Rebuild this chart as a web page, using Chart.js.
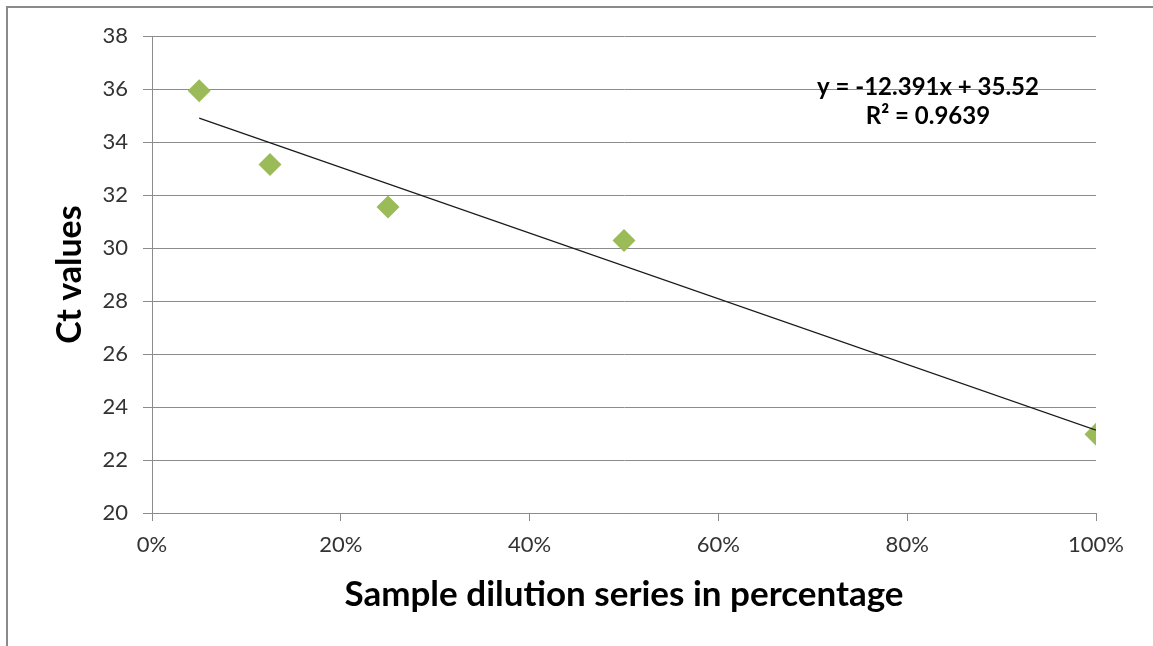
<!DOCTYPE html>
<html>
<head>
<meta charset="utf-8">
<script src="https://cdn.jsdelivr.net/npm/chart.js@4/dist/chart.umd.min.js"></script>
<style>
  html, body { margin: 0; padding: 0; background: #ffffff; }
  #wrap { width: 1153px; height: 646px; position: relative; }
</style>
</head>
<body>
<div id="wrap"><canvas id="chart" width="1153" height="646"></canvas></div>
<script>
// Dilution fraction of the sample (1 = 100 %)
const dilution = [0.05, 0.125, 0.25, 0.5, 1.0];
// Measured Ct values for each dilution
const ctValues = [35.93, 33.15, 31.55, 30.28, 22.97];
// Linear trendline fitted to the series
const trendSlope = -12.391;
const trendIntercept = 35.52;
const trendR2 = 0.9639;
// Axis tick values
const yTicks = [20, 22, 24, 26, 28, 30, 32, 34, 36, 38];
const xTicks = [0, 0.2, 0.4, 0.6, 0.8, 1.0];

const FONT = 'Lato, "Open Sans", "Noto Sans", sans-serif';
const GRID = '#8c8c8c';

const trendX = [Math.min(...dilution), Math.max(...dilution)];
const trendPoints = trendX.map(x => ({ x: x, y: trendSlope * x + trendIntercept }));

const framePlugin = {
  id: 'frame',
  beforeDraw(chart) {
    const ctx = chart.ctx;
    ctx.save();
    ctx.fillStyle = '#ffffff';
    ctx.fillRect(0, 0, chart.width, chart.height);
    ctx.strokeStyle = '#8a8a8a';
    ctx.lineWidth = 2;
    ctx.beginPath();
    ctx.moveTo(7, chart.height);
    ctx.lineTo(7, 7);
    ctx.lineTo(chart.width, 7);
    ctx.stroke();
    ctx.restore();
  }
};

const trendLabelPlugin = {
  id: 'trendLabel',
  afterDatasetsDraw(chart) {
    const ctx = chart.ctx;
    const xs = chart.scales.x, ys = chart.scales.y;
    const cx = xs.getPixelForValue(0.822);
    const y1 = ys.getPixelForValue(36.08);
    const y2 = ys.getPixelForValue(34.98);
    const sign = trendIntercept >= 0 ? '+' : '-';
    const eq = 'y = ' + trendSlope.toFixed(3) + 'x' + ' ' + sign + ' ' + Math.abs(trendIntercept).toFixed(2);
    const r2 = 'R\u00B2 = ' + trendR2.toFixed(4);
    ctx.save();
    ctx.fillStyle = '#000000';
    ctx.font = 'bold 24px ' + FONT;
    ctx.textAlign = 'center';
    ctx.textBaseline = 'middle';
    ctx.fillText(eq, cx, y1);
    ctx.fillText(r2, cx, y2);
    ctx.restore();
  }
};

new Chart(document.getElementById('chart'), {
  type: 'scatter',
  data: {
    datasets: [
      {
        label: 'Ct',
        data: dilution.map((x, i) => ({ x: x, y: ctValues[i] })),
        pointStyle: 'rectRot',
        pointRadius: 11.5,
        pointHoverRadius: 11.5,
        backgroundColor: '#9bbb59',
        borderColor: '#9bbb59',
        borderWidth: 0,
        order: 2
      },
      {
        type: 'line',
        label: 'Linear',
        data: trendPoints,
        borderColor: '#1a1a1a',
        borderWidth: 1.2,
        pointRadius: 0,
        fill: false,
        order: 1
      }
    ]
  },
  options: {
    responsive: false,
    animation: false,
    events: [],
    layout: { padding: { left: 0, right: 57, top: 36, bottom: 0 } },
    plugins: {
      legend: { display: false },
      tooltip: { enabled: false }
    },
    scales: {
      x: {
        type: 'linear',
        min: 0,
        max: 1,
        afterBuildTicks: s => { s.ticks = xTicks.map(v => ({ value: v })); },
        afterFit: s => { s.height = 646 - 513; },
        grid: {
          drawOnChartArea: false,
          drawTicks: true,
          tickLength: 8,
          color: GRID
        },
        border: { color: GRID, width: 1 },
        ticks: {
          padding: 11,
          color: '#333333',
          font: { family: FONT, size: 22 },
          callback: v => Math.round(v * 100) + '%'
        },
        title: {
          display: true,
          text: 'Sample dilution series in percentage',
          color: '#000000',
          font: { family: FONT, size: 35, weight: 'bold' },
          padding: 30
        }
      },
      y: {
        min: 20,
        max: 38,
        afterBuildTicks: s => { s.ticks = yTicks.map(v => ({ value: v })); },
        afterFit: s => { s.width = 152; },
        grid: {
          drawOnChartArea: true,
          drawTicks: true,
          tickLength: 9,
          color: GRID
        },
        border: { color: GRID, width: 1 },
        ticks: {
          padding: 15,
          color: '#333333',
          font: { family: FONT, size: 22 }
        },
        title: {
          display: true,
          text: 'Ct values',
          color: '#000000',
          font: { family: FONT, size: 34, weight: 'bold' },
          padding: 50
        }
      }
    }
  },
  plugins: [framePlugin, trendLabelPlugin]
});
</script>
</body>
</html>
